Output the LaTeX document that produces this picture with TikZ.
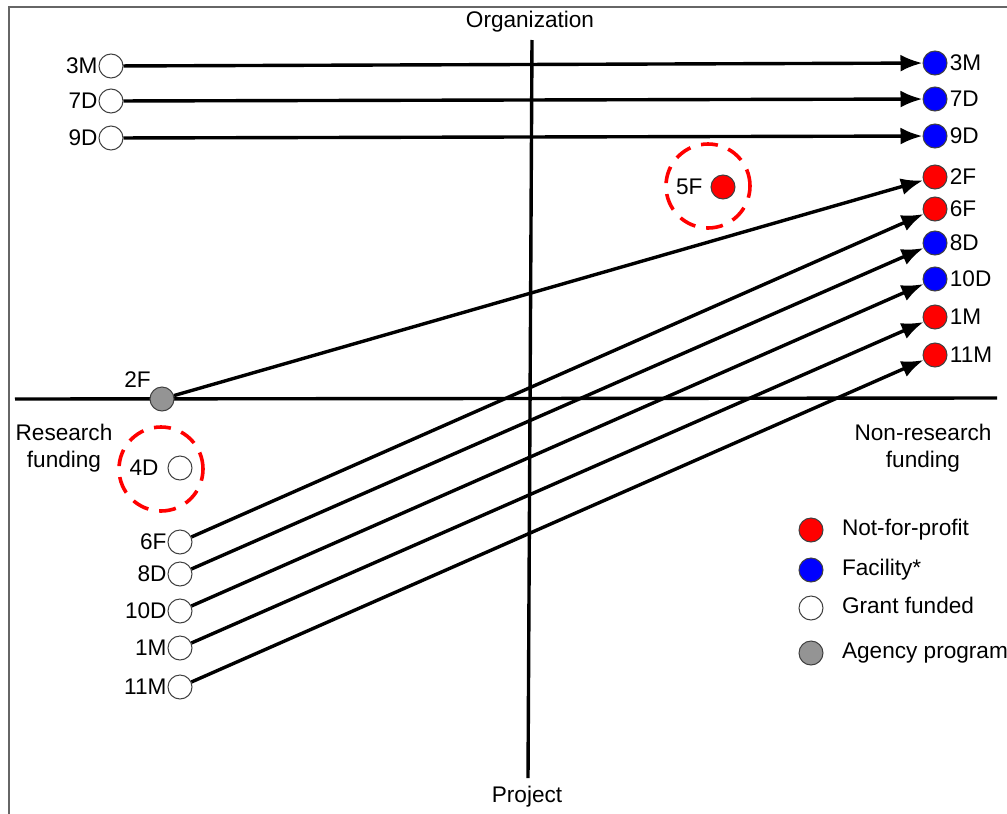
\documentclass[tikz,border=0pt]{standalone}
\usepackage{fontspec}
\setmainfont{Liberation Sans}
\usetikzlibrary{arrows.meta}

\tikzset{
  dot/.style={circle, draw=black!75, line width=0.5pt, minimum size=12pt, inner sep=0pt},
  nfp/.style={dot, fill=red},
  fac/.style={dot, fill=blue},
  grant/.style={dot, fill=white},
  agency/.style={dot, fill=black!42},
  ring/.style={circle, draw=red, line width=1.8pt, dash pattern=on 8.5pt off 5.5pt, minimum size=42pt, inner sep=0pt},
  flow/.style={line width=1.7pt, -{Latex[length=11pt,width=8.5pt]}},
  axis/.style={line width=1.7pt},
}

\begin{document}
\begin{tikzpicture}[x=0.5pt, y=-0.5pt, font=\fontsize{11.3}{13.5}\selectfont]
	\useasboundingbox (0,0) rectangle (1007,814);
	% frame, cut off right and bottom
	\draw[black!60, line width=1pt] (8.5,814) |- (1007,6.5);
	% axes
	\draw[axis] (532,40) -- (528,778);
	\draw[axis] (15,399) -- (997,398);
	\node (org) at (530,22) {Organization};
	\node (proj) at (527,797) {Project};
	\node[align=center] (res) at (64,448) {Research\\funding};
	\node[align=center] (nonres) at (923,448) {Non-research\\funding};
	% grant funded, top left
	\foreach \n/\y in {3M/66, 7D/101, 9D/138}
		\node[grant, label={[inner sep=0.3pt]left:\n}] (L\n) at (111,\y) {};
	% grant funded, bottom left
	\foreach \n/\y in {6F/542, 8D/574, 10D/611, 1M/648, 11M/687}
		\node[grant, label={[inner sep=0.3pt]left:\n}] (L\n) at (180,\y) {};
	% agency program on the axis
	\node[agency, label={[inner sep=1pt]above left:2F}] (A2F) at (162,399) {};
	% right column
	\foreach \n/\y/\s in {3M/63/fac, 7D/99/fac, 9D/136/fac, 2F/177/nfp, 6F/209/nfp, 8D/243/fac, 10D/279/fac, 1M/317/nfp, 11M/355/nfp}
		\node[\s, label={[inner sep=1pt]right:\n}] (R\n) at (935,\y) {};
	% the two that stay put
	\node[grant, label={[label distance=1pt]left:4D}] (L4D) at (180,468) {};
	\node[ring] (ring4D) at (161,469) {};
	\node[nfp, label={[label distance=0.5pt]left:5F}] (R5F) at (723,187) {};
	\node[ring] (ring5F) at (708,186) {};
	% moves
	\foreach \n in {3M, 7D, 9D, 6F, 8D, 10D, 1M, 11M}
		\draw[flow] (L\n) -- (R\n);
	\draw[flow] (A2F) -- (R2F);
	% legend
	\foreach \s/\t/\y [count=\i] in {nfp/Not-for-profit/530, fac/Facility*/570, grant/Grant funded/608, agency/Agency program/653} {
		\node[\s] (key\i) at (811,\y) {};
		\node[anchor=mid west] (keytext\i) at (835,\y) {\t};
	}
\end{tikzpicture}
\end{document}
